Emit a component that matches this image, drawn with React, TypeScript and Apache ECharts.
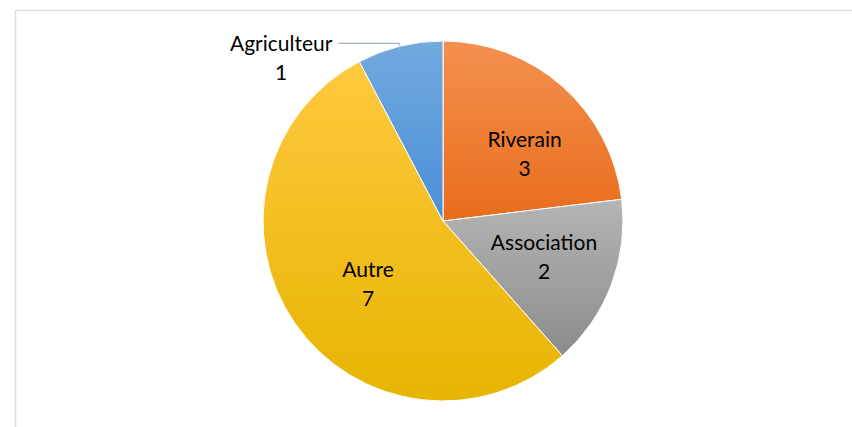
import React, { useEffect, useRef } from "react";
import * as echarts from "echarts";

const categories = ["Riverain", "Association", "Autre", "Agriculteur"];
const values = [3, 2, 7, 1];
const topColors = ["#F4904F", "#B4B4B4", "#FFC93F", "#72A9DE"];
const bottomColors = ["#E86D1C", "#8C8C8C", "#E6B400", "#4A8FD7"];

const FONT = "Lato, 'Open Sans', sans-serif";

export default function App() {
  const ref = useRef<HTMLDivElement>(null);
  useEffect(() => {
    if (!ref.current) return;
    const chart = echarts.init(ref.current, null, { renderer: "svg" });
    const grad = (i: number) =>
      new echarts.graphic.LinearGradient(0, 0, 0, 1, [
        { offset: 0, color: topColors[i] },
        { offset: 1, color: bottomColors[i] },
      ]);
    const lineStyle = {
      width: 104,
      align: "center",
      color: "#000",
      fontFamily: FONT,
      fontSize: 21,
      lineHeight: 29,
    };
    const mainData = categories.map((name, i) => {
      const item: any = {
        name,
        value: values[i],
        itemStyle: { color: grad(i) },
      };
      if (name === "Agriculteur") {
        item.label = {
          show: true,
          position: "outside",
          formatter: (p: any) => `{n|${p.name}}\n{n|${p.value}}`,
          rich: { n: lineStyle },
          distanceToLabelLine: 5,
          offset: [0, 14],
        };
        item.labelLine = {
          show: true,
          length: 3,
          length2: 61,
          smooth: false,
          lineStyle: { color: "#A5B2C2", width: 1.3 },
        };
      }
      return item;
    });
    const labelData = categories.map((name, i) => {
      const item: any = { name, value: values[i] };
      if (name === "Agriculteur") item.label = { show: false };
      if (name === "Riverain") item.label = { offset: [10, 13] };
      if (name === "Association") item.label = { offset: [0, -3] };
      if (name === "Autre") item.label = { offset: [14, 1] };
      return item;
    });
    chart.setOption({
      animation: false,
      backgroundColor: "#fff",
      graphic: [
        {
          type: "rect",
          shape: { x: 15.5, y: 10.5, width: 900, height: 500 },
          style: { fill: "none", stroke: "#D9DEE5", lineWidth: 1.5 },
          silent: true,
        },
      ],
      series: [
        {
          type: "pie",
          center: [443, 221],
          radius: [0, 180],
          startAngle: 90,
          clockwise: true,
          data: mainData,
          label: { show: false },
          labelLine: { show: false },
          itemStyle: { borderColor: "#fff", borderWidth: 1 },
          emphasis: { disabled: true },
          silent: true,
        },
        {
          type: "pie",
          center: [443, 221],
          radius: [0, 210],
          startAngle: 90,
          clockwise: true,
          data: labelData,
          itemStyle: { color: "rgba(0,0,0,0)" },
          label: {
            show: true,
            position: "inside",
            formatter: "{b}\n{c}",
            color: "#000",
            fontFamily: FONT,
            fontSize: 21,
            lineHeight: 29,
            align: "center",
          },
          labelLine: { show: false },
          emphasis: { disabled: true },
          silent: true,
        },
      ],
    });
    return () => chart.dispose();
  }, []);
  return (
    <div
      ref={ref}
      style={{ position: "absolute", left: 0, top: 0, width: 852, height: 427 }}
    />
  );
}
